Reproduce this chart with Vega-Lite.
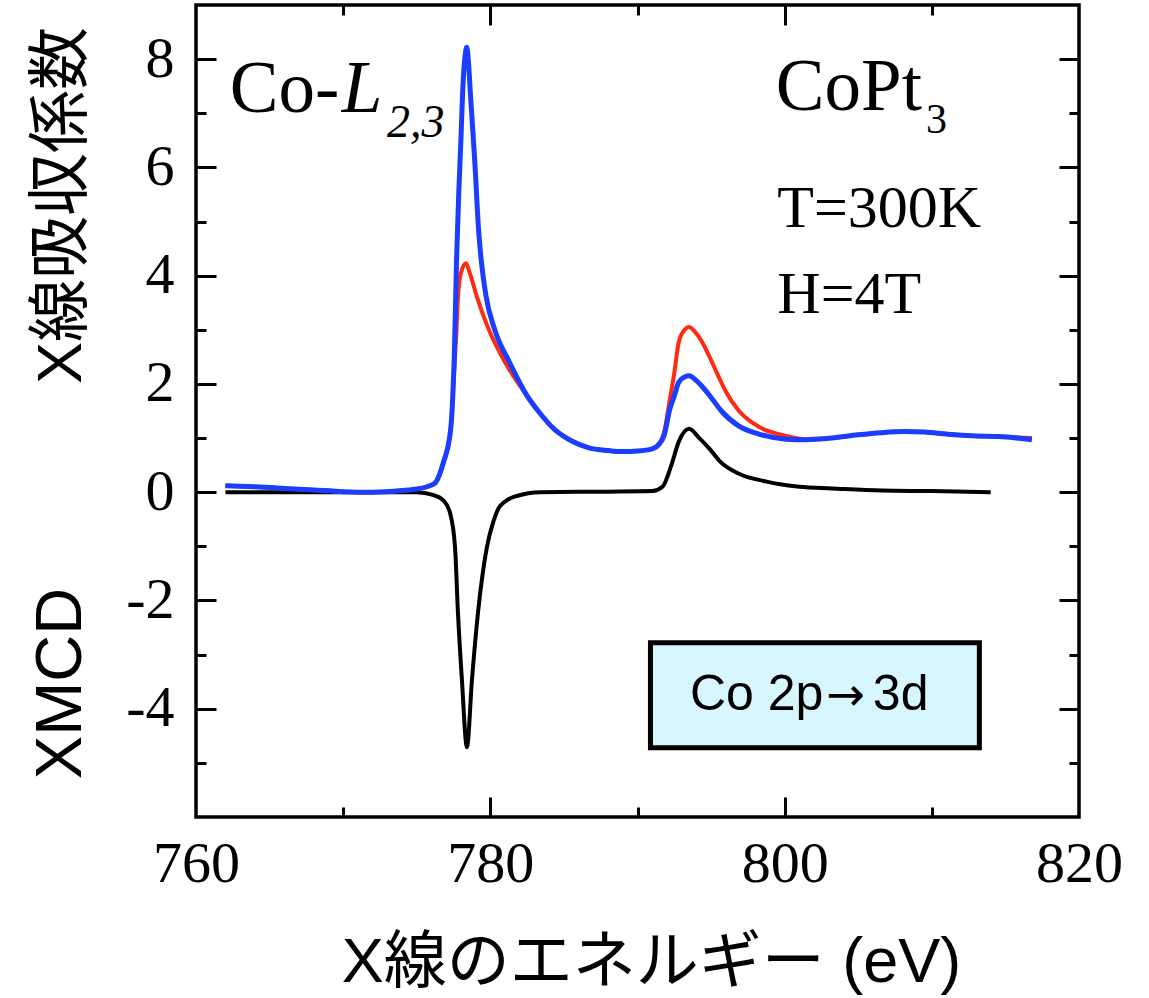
{
  "$schema": "https://vega.github.io/schema/vega-lite/v6.json",
  "width": 883,
  "height": 812,
  "autosize": "none",
  "padding": {"left": 196, "top": 5, "right": 70, "bottom": 181},
  "background": "white",
  "config": {
    "view": {"stroke": "black", "strokeWidth": 3.5},
    "axis": {"grid": false, "domain": false, "tickColor": "black", "tickWidth": 3, "labelColor": "black", "titleColor": "black"}
  },
  "resolve": {"axis": {"x": "independent", "y": "independent"}},
  "datasets": {
    "blue": [
      {"E": 762, "v": 0.12}, {"E": 764, "v": 0.10}, {"E": 766, "v": 0.07}, {"E": 768, "v": 0.04},
      {"E": 770, "v": 0.01}, {"E": 772, "v": 0.0}, {"E": 774, "v": 0.03}, {"E": 775, "v": 0.06},
      {"E": 775.8, "v": 0.11}, {"E": 776.25, "v": 0.17}, {"E": 776.8, "v": 0.54}, {"E": 777.3, "v": 1.15},
      {"E": 777.45, "v": 1.78}, {"E": 777.55, "v": 2.5}, {"E": 777.7, "v": 4.24}, {"E": 777.85, "v": 5.5},
      {"E": 778.0, "v": 6.5}, {"E": 778.12, "v": 7.4}, {"E": 778.3, "v": 8.1}, {"E": 778.4, "v": 8.22},
      {"E": 778.5, "v": 8.0}, {"E": 778.66, "v": 7.3}, {"E": 778.95, "v": 6.08}, {"E": 779.2, "v": 4.85},
      {"E": 779.4, "v": 4.24}, {"E": 779.7, "v": 3.63}, {"E": 780.3, "v": 3.0}, {"E": 781.3, "v": 2.4},
      {"E": 782.5, "v": 1.78}, {"E": 783.4, "v": 1.45}, {"E": 784.4, "v": 1.15}, {"E": 785.5, "v": 0.95},
      {"E": 786.7, "v": 0.82}, {"E": 788, "v": 0.77}, {"E": 789, "v": 0.75}, {"E": 790, "v": 0.76},
      {"E": 791, "v": 0.8}, {"E": 791.5, "v": 0.9}, {"E": 791.8, "v": 1.04}, {"E": 792.2, "v": 1.54},
      {"E": 792.5, "v": 1.78}, {"E": 792.8, "v": 2.03}, {"E": 793.2, "v": 2.13}, {"E": 793.5, "v": 2.15},
      {"E": 794.0, "v": 2.06}, {"E": 794.5, "v": 1.92}, {"E": 795.0, "v": 1.75}, {"E": 795.7, "v": 1.5},
      {"E": 796.9, "v": 1.22}, {"E": 798.3, "v": 1.07}, {"E": 800.1, "v": 0.98}, {"E": 801.4, "v": 0.97},
      {"E": 803.2, "v": 1.0}, {"E": 805, "v": 1.06}, {"E": 806.6, "v": 1.1}, {"E": 808.2, "v": 1.12},
      {"E": 809.5, "v": 1.11}, {"E": 811.1, "v": 1.07}, {"E": 813, "v": 1.04}, {"E": 814.5, "v": 1.03},
      {"E": 816.8, "v": 0.97}
    ],
    "red": [
      {"E": 762, "v": 0.12}, {"E": 764, "v": 0.10}, {"E": 766, "v": 0.07}, {"E": 768, "v": 0.04},
      {"E": 770, "v": 0.01}, {"E": 772, "v": 0.0}, {"E": 774, "v": 0.03}, {"E": 775, "v": 0.06},
      {"E": 775.8, "v": 0.11}, {"E": 776.25, "v": 0.17}, {"E": 776.8, "v": 0.54}, {"E": 777.3, "v": 1.15},
      {"E": 777.5, "v": 2.0}, {"E": 777.7, "v": 3.0}, {"E": 777.8, "v": 3.6}, {"E": 778.0, "v": 4.05},
      {"E": 778.35, "v": 4.23}, {"E": 778.6, "v": 4.05}, {"E": 779.1, "v": 3.6}, {"E": 779.9, "v": 3.0},
      {"E": 781.0, "v": 2.4}, {"E": 782.5, "v": 1.78}, {"E": 783.4, "v": 1.45}, {"E": 784.4, "v": 1.15},
      {"E": 785.5, "v": 0.95}, {"E": 786.7, "v": 0.82}, {"E": 788, "v": 0.77}, {"E": 789, "v": 0.75},
      {"E": 790, "v": 0.76}, {"E": 791, "v": 0.8}, {"E": 791.5, "v": 0.9}, {"E": 791.8, "v": 1.1},
      {"E": 792.2, "v": 1.72}, {"E": 792.5, "v": 2.2}, {"E": 792.8, "v": 2.77}, {"E": 793.2, "v": 3.0},
      {"E": 793.5, "v": 3.05}, {"E": 794.0, "v": 2.93}, {"E": 794.5, "v": 2.72}, {"E": 795.0, "v": 2.44},
      {"E": 795.5, "v": 2.14}, {"E": 796.0, "v": 1.86}, {"E": 796.9, "v": 1.5}, {"E": 798.3, "v": 1.2},
      {"E": 800.1, "v": 1.04}, {"E": 801.4, "v": 0.98}, {"E": 803.2, "v": 1.0}, {"E": 805, "v": 1.06},
      {"E": 806.6, "v": 1.1}, {"E": 808.2, "v": 1.12}, {"E": 809.5, "v": 1.11}, {"E": 811.1, "v": 1.07},
      {"E": 813, "v": 1.04}, {"E": 814.5, "v": 1.03}, {"E": 816.8, "v": 1.0}
    ],
    "xmcd": [
      {"E": 762, "v": 0.0}, {"E": 770, "v": 0.0}, {"E": 775, "v": 0.0}, {"E": 776.1, "v": -0.05},
      {"E": 776.8, "v": -0.15}, {"E": 777.26, "v": -0.38}, {"E": 777.6, "v": -1.01}, {"E": 777.8, "v": -2.23},
      {"E": 778.07, "v": -3.47}, {"E": 778.41, "v": -4.71}, {"E": 778.75, "v": -3.47}, {"E": 779.16, "v": -2.23},
      {"E": 779.77, "v": -1.01}, {"E": 780.2, "v": -0.55}, {"E": 780.65, "v": -0.26}, {"E": 781.8, "v": -0.07},
      {"E": 783.4, "v": 0.0}, {"E": 788, "v": 0.01}, {"E": 791, "v": 0.02}, {"E": 791.7, "v": 0.1},
      {"E": 792.3, "v": 0.5}, {"E": 792.8, "v": 0.93}, {"E": 793.5, "v": 1.17}, {"E": 794.2, "v": 1.0},
      {"E": 794.9, "v": 0.8}, {"E": 795.6, "v": 0.57}, {"E": 796.9, "v": 0.34}, {"E": 798.7, "v": 0.2},
      {"E": 801, "v": 0.1}, {"E": 803.2, "v": 0.07}, {"E": 806.6, "v": 0.03}, {"E": 810, "v": 0.02},
      {"E": 814, "v": 0.0}
    ]
  },
  "layer": [
    {
      "mark": {"type": "rule", "color": "black", "strokeWidth": 2},
      "encoding": {
        "y": {"datum": 0, "type": "quantitative", "scale": {"domain": [-6, 9], "nice": false, "zero": false}, "axis": null}
      }
    },
    {
      "data": {"name": "xmcd"},
      "mark": {"type": "line", "color": "black", "strokeWidth": 4, "interpolate": "monotone"},
      "encoding": {
        "x": {"field": "E", "type": "quantitative", "scale": {"domain": [760, 820], "nice": false, "zero": false},
          "axis": {"orient": "bottom", "values": [760, 780, 800, 820], "ticks": false, "labelFont": "Liberation Serif", "labelFontSize": 58, "labelPadding": 18, "labelFlush": false, "labelOverlap": false,
            "title": "X線のエネルギー (eV)", "titleFont": "Liberation Sans, Noto Sans CJK JP", "titleFontSize": 63, "titleFontWeight": "normal", "titleX": 455, "titleY": 164, "titleAlign": "center", "titleBaseline": "alphabetic", "titleAngle": 0}},
        "y": {"field": "v", "type": "quantitative", "scale": {"domain": [-6, 9], "nice": false, "zero": false},
          "axis": {"orient": "left", "values": [-4, -2, 0, 2, 4, 6, 8], "ticks": false, "labelFont": "Liberation Serif", "labelFontSize": 58, "labelPadding": 22, "labelFlush": false, "labelOverlap": false, "labelExpr": "toString(datum.value)",
            "title": "X線吸収係数", "titleFont": "Liberation Sans, Noto Sans CJK JP", "titleFontSize": 63, "titleFontWeight": "normal", "titleX": -116, "titleY": 200, "titleAngle": -90, "titleAlign": "center", "titleBaseline": "alphabetic"}}
      }
    },
    {
      "data": {"name": "red"},
      "mark": {"type": "line", "color": "#ff2a10", "strokeWidth": 4, "interpolate": "monotone"},
      "encoding": {
        "x": {"field": "E", "type": "quantitative", "axis": {"orient": "bottom", "values": [780, 800], "tickSize": -20, "labels": false, "title": null}},
        "y": {"field": "v", "type": "quantitative",
          "axis": {"orient": "left", "values": [-4, -2, 0, 2, 4, 6, 8], "tickSize": -20, "labels": false,
            "title": "XMCD", "titleFont": "Liberation Sans", "titleFontSize": 65, "titleFontWeight": "normal", "titleX": -116, "titleY": 678, "titleAngle": -90, "titleAlign": "center", "titleBaseline": "alphabetic"}}
      }
    },
    {
      "data": {"name": "blue"},
      "mark": {"type": "line", "color": "#1a3dff", "strokeWidth": 5, "interpolate": "monotone"},
      "encoding": {
        "x": {"field": "E", "type": "quantitative", "axis": {"orient": "bottom", "values": [770, 790, 810], "tickSize": -10, "labels": false, "title": null}},
        "y": {"field": "v", "type": "quantitative", "axis": {"orient": "left", "values": [-5, -3, -1, 1, 3, 5, 7], "tickSize": -10, "labels": false, "title": null}}
      }
    },
    {
      "data": {"values": [{"x1": 790.88, "x2": 813.23, "y1": -2.78, "y2": -4.72}]},
      "mark": {"type": "rect", "fill": "#d8f6fd", "stroke": "black", "strokeWidth": 5},
      "encoding": {
        "x": {"field": "x1", "type": "quantitative", "axis": {"orient": "top", "values": [780, 800], "tickSize": -20, "labels": false, "title": null}},
        "x2": {"field": "x2"},
        "y": {"field": "y1", "type": "quantitative", "axis": {"orient": "right", "values": [-4, -2, 0, 2, 4, 6, 8], "tickSize": -20, "labels": false, "title": null}},
        "y2": {"field": "y2"}
      }
    },
    {
      "data": {"values": [{"E": 793.56, "v": -4.02, "t": "Co 2p"}, {"E": 805.99, "v": -4.02, "t": "3d"}]},
      "mark": {"type": "text", "font": "Liberation Sans", "fontSize": 50, "align": "left", "baseline": "alphabetic", "color": "black"},
      "encoding": {
        "x": {"field": "E", "type": "quantitative", "axis": {"orient": "top", "values": [770, 790, 810], "tickSize": -10, "labels": false, "title": null}},
        "y": {"field": "v", "type": "quantitative", "axis": {"orient": "right", "values": [-5, -3, -1, 1, 3, 5, 7], "tickSize": -10, "labels": false, "title": null}},
        "text": {"field": "t"}
      }
    },
    {
      "data": {"values": [{"E": 802.85, "v": -4.02, "t": "→"}]},
      "mark": {"type": "text", "font": "DejaVu Sans", "fontSize": 46, "align": "left", "baseline": "alphabetic", "color": "black"},
      "encoding": {
        "x": {"field": "E", "type": "quantitative", "axis": null},
        "y": {"field": "v", "type": "quantitative", "axis": null},
        "text": {"field": "t"}
      }
    },
    {
      "data": {"values": [{"E": 762.3, "v": 7.02, "t": "Co-"}, {"E": 799.4, "v": 7.06, "t": "CoPt"}]},
      "mark": {"type": "text", "font": "Liberation Serif", "fontSize": 73, "align": "left", "baseline": "alphabetic", "color": "black"},
      "encoding": {
        "x": {"field": "E", "type": "quantitative", "axis": null},
        "y": {"field": "v", "type": "quantitative", "axis": null},
        "text": {"field": "t"}
      }
    },
    {
      "data": {"values": [{"E": 769.9, "v": 7.02, "t": "L"}]},
      "mark": {"type": "text", "font": "Liberation Serif", "fontStyle": "italic", "fontSize": 73, "align": "left", "baseline": "alphabetic", "color": "black"},
      "encoding": {
        "x": {"field": "E", "type": "quantitative", "axis": null},
        "y": {"field": "v", "type": "quantitative", "axis": null},
        "text": {"field": "t"}
      }
    },
    {
      "data": {"values": [{"E": 772.98, "v": 6.56, "t": "2,3"}]},
      "mark": {"type": "text", "font": "Liberation Serif", "fontStyle": "italic", "fontSize": 46, "align": "left", "baseline": "alphabetic", "color": "black"},
      "encoding": {
        "x": {"field": "E", "type": "quantitative", "axis": null},
        "y": {"field": "v", "type": "quantitative", "axis": null},
        "text": {"field": "t"}
      }
    },
    {
      "data": {"values": [{"E": 809.6, "v": 6.64, "t": "3"}]},
      "mark": {"type": "text", "font": "Liberation Serif", "fontSize": 42, "align": "left", "baseline": "alphabetic", "color": "black"},
      "encoding": {
        "x": {"field": "E", "type": "quantitative", "axis": null},
        "y": {"field": "v", "type": "quantitative", "axis": null},
        "text": {"field": "t"}
      }
    },
    {
      "data": {"values": [{"E": 799.5, "v": 4.9, "t": "T=300K"}, {"E": 799.5, "v": 3.31, "t": "H=4T"}]},
      "mark": {"type": "text", "font": "Liberation Serif", "fontSize": 60, "align": "left", "baseline": "alphabetic", "color": "black"},
      "encoding": {
        "x": {"field": "E", "type": "quantitative", "axis": null},
        "y": {"field": "v", "type": "quantitative", "axis": null},
        "text": {"field": "t"}
      }
    }
  ]
}
